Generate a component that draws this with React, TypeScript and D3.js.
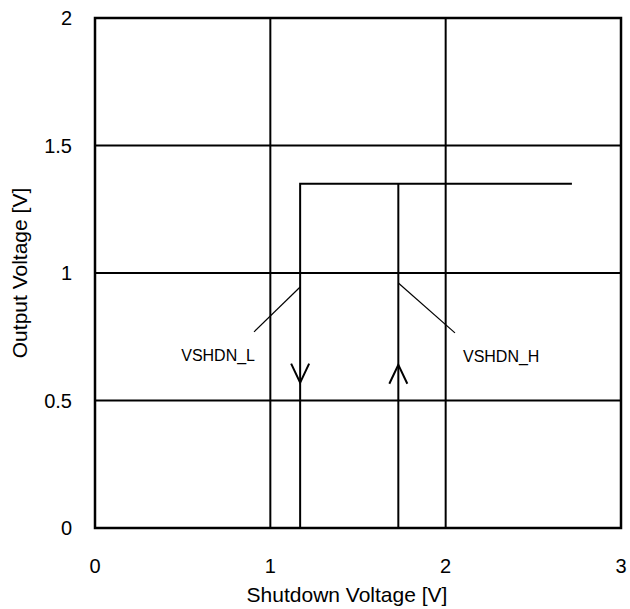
import { useEffect, useRef } from "react";
import * as d3 from "d3";

const xTicks = [0, 1, 2, 3];
const yTicks = [0, 0.5, 1, 1.5, 2];
// output trace: falling threshold, then high level out to the right
const traceL = [
  { x: 1.17, y: 0 },
  { x: 1.17, y: 1.35 },
  { x: 2.72, y: 1.35 },
];
const traceH = [
  { x: 1.73, y: 0 },
  { x: 1.73, y: 1.35 },
];
const arrows = [
  { x: 1.17, y: 0.57, dir: "down" },
  { x: 1.73, y: 0.64, dir: "up" },
];
const notes = [
  { label: "VSHDN_L", x0: 1.17, y0: 0.945, x1: 0.907, y1: 0.769, anchor: "end" },
  { label: "VSHDN_H", x0: 1.73, y0: 0.961, x1: 2.053, y1: 0.765, anchor: "start" },
];

const App = () => {
  const svgRef = useRef<SVGSVGElement | null>(null);

  useEffect(() => {
    if (!svgRef.current) return;
    const svg = d3.select(svgRef.current);
    svg.selectAll("*").remove();

    const width = 630;
    const height = 609;
    const margin = { top: 18, right: 9, bottom: 81, left: 95 };
    const font = "Liberation Sans, Arial, sans-serif";

    const x = d3.scaleLinear().domain([0, 3]).range([margin.left, width - margin.right]);
    const y = d3.scaleLinear().domain([0, 2]).range([height - margin.bottom, margin.top]);

    const g = svg.append("g");

    // grid
    g.selectAll(".gx")
      .data(xTicks.slice(1, -1))
      .enter()
      .append("line")
      .attr("x1", (d) => x(d))
      .attr("x2", (d) => x(d))
      .attr("y1", y(0))
      .attr("y2", y(2))
      .attr("stroke", "#000")
      .attr("stroke-width", 2);
    g.selectAll(".gy")
      .data(yTicks.slice(1, -1))
      .enter()
      .append("line")
      .attr("x1", x(0))
      .attr("x2", x(3))
      .attr("y1", (d) => y(d))
      .attr("y2", (d) => y(d))
      .attr("stroke", "#000")
      .attr("stroke-width", 2);

    // frame
    g.append("rect")
      .attr("x", x(0))
      .attr("y", y(2))
      .attr("width", x(3) - x(0))
      .attr("height", y(0) - y(2))
      .attr("fill", "none")
      .attr("stroke", "#000")
      .attr("stroke-width", 2.5);

    // tick labels
    g.selectAll(".tx")
      .data(xTicks)
      .enter()
      .append("text")
      .attr("x", (d) => x(d))
      .attr("y", y(0) + 45)
      .attr("text-anchor", "middle")
      .attr("font-family", font)
      .attr("font-size", 20)
      .text((d) => d3.format("")(d));
    g.selectAll(".ty")
      .data(yTicks)
      .enter()
      .append("text")
      .attr("x", x(0) - 23)
      .attr("y", (d) => y(d) + 7)
      .attr("text-anchor", "end")
      .attr("font-family", font)
      .attr("font-size", 20)
      .text((d) => d3.format("")(d));

    // axis titles
    g.append("text")
      .attr("x", (x(0) + x(3)) / 2 - 11)
      .attr("y", y(0) + 74)
      .attr("text-anchor", "middle")
      .attr("font-family", font)
      .attr("font-size", 21)
      .text("Shutdown Voltage [V]");
    g.append("text")
      .attr("transform", `translate(27,${(y(0) + y(2)) / 2}) rotate(-90)`)
      .attr("text-anchor", "middle")
      .attr("font-family", font)
      .attr("font-size", 21)
      .text("Output Voltage [V]");

    // traces
    const line = d3
      .line<{ x: number; y: number }>()
      .x((d) => x(d.x))
      .y((d) => y(d.y));
    [traceL, traceH].forEach((t) => {
      g.append("path")
        .attr("d", line(t))
        .attr("fill", "none")
        .attr("stroke", "#000")
        .attr("stroke-width", 2);
    });

    // arrow heads
    arrows.forEach((a) => {
      const tipX = x(a.x);
      const tipY = y(a.y);
      const dy = a.dir === "down" ? -19 : 19;
      g.append("path")
        .attr("d", `M${tipX - 9},${tipY + dy}L${tipX},${tipY}L${tipX + 9},${tipY + dy}`)
        .attr("fill", "none")
        .attr("stroke", "#000")
        .attr("stroke-width", 2);
    });

    // leader lines and labels
    notes.forEach((n) => {
      g.append("line")
        .attr("x1", x(n.x0))
        .attr("y1", y(n.y0))
        .attr("x2", x(n.x1))
        .attr("y2", y(n.y1))
        .attr("stroke", "#000")
        .attr("stroke-width", 1.2);
      g.append("text")
        .attr("x", n.anchor === "end" ? x(n.x1) + 1 : x(n.x1) + 8)
        .attr("y", y(n.y1) + 29)
        .attr("text-anchor", n.anchor)
        .attr("font-family", font)
        .attr("font-size", 16)
        .text(n.label);
    });
  }, []);

  return (
    <svg
      ref={svgRef}
      width={630}
      height={609}
      style={{ position: "absolute", left: 0, top: 0, background: "#fff" }}
    ></svg>
  );
};

export default App;
